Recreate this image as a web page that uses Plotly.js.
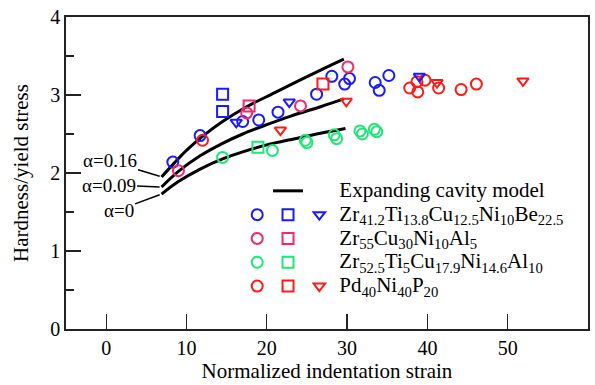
<!DOCTYPE html>
<html>
<head>
<meta charset="utf-8">
<script src="https://cdn.plot.ly/plotly-3.0.1.min.js"></script>
<style>html,body{margin:0;padding:0;background:#fff;}#chart{width:595px;height:385px;}</style>
</head>
<body>
<div id="chart"></div>
<script>
// ---- Expanding cavity model curves ----
const modelA16X = [6.9, 8.5, 10, 12, 14.5, 17.5, 21, 24, 26.7, 29.6];
const modelA16Y = [1.95, 2.13, 2.29, 2.47, 2.66, 2.85, 3.03, 3.185, 3.32, 3.46];
const modelA09X = [6.9, 9, 11.7, 14.5, 17, 20, 23, 26.7, 29.6];
const modelA09Y = [1.82, 2.02, 2.22, 2.38, 2.50, 2.62, 2.73, 2.85, 2.95];
const modelA0X = [6.9, 9, 11.7, 14.5, 17, 20, 23.5, 26.7, 29.8];
const modelA0Y = [1.73, 1.89, 2.05, 2.18, 2.27, 2.36, 2.44, 2.51, 2.57];

// ---- Zr41.2Ti13.8Cu12.5Ni10Be22.5 ----
const zrBeCircX = [8.3, 11.7, 17.0, 19.0, 21.4, 26.2, 28.1, 29.7, 30.3, 33.5, 34.0, 35.2];
const zrBeCircY = [2.14, 2.48, 2.66, 2.68, 2.78, 3.01, 3.24, 3.14, 3.21, 3.16, 3.06, 3.25];
const zrBeSqX = [14.5, 14.5];
const zrBeSqY = [3.01, 2.79];
const zrBeTriX = [16.2, 22.8, 39.0];
const zrBeTriY = [2.65, 2.91, 3.24];

// ---- Zr55Cu30Ni10Al5 ----
const zrAlCircX = [9.0, 17.5, 24.2, 30.1];
const zrAlCircY = [2.03, 2.77, 2.86, 3.36];
const zrAlSqX = [17.8];
const zrAlSqY = [2.86];

// ---- Zr52.5Ti5Cu17.9Ni14.6Al10 ----
const zrTiCircX = [14.5, 20.7, 24.8, 25.0, 28.4, 28.7, 31.6, 31.9, 33.4, 33.7];
const zrTiCircY = [2.20, 2.29, 2.42, 2.39, 2.49, 2.44, 2.54, 2.50, 2.56, 2.53];
const zrTiSqX = [18.9];
const zrTiSqY = [2.33];

// ---- Pd40Ni40P20 ----
const pdCircX = [12.0, 37.8, 38.7, 38.8, 39.7, 41.4, 44.2, 46.1];
const pdCircY = [2.42, 3.09, 3.17, 3.04, 3.19, 3.09, 3.07, 3.14];
const pdSqX = [27.0];
const pdSqY = [3.14];
const pdTriX = [21.7, 29.9, 41.2, 51.9];
const pdTriY = [2.55, 2.92, 3.16, 3.18];

// ---- labels ----
const xTicks = [0, 10, 20, 30, 40, 50, 60];
const yTicks = [0, 1, 2, 3, 4];
const modelName = 'Expanding cavity model';
const alloyNames = [
  'Zr<sub>41.2</sub>Ti<sub>13.8</sub>Cu<sub>12.5</sub>Ni<sub>10</sub>Be<sub>22.5</sub>',
  'Zr<sub>55</sub>Cu<sub>30</sub>Ni<sub>10</sub>Al<sub>5</sub>',
  'Zr<sub>52.5</sub>Ti<sub>5</sub>Cu<sub>17.9</sub>Ni<sub>14.6</sub>Al<sub>10</sub>',
  'Pd<sub>40</sub>Ni<sub>40</sub>P<sub>20</sub>'
];
const alphaLabels = ['α=0.16', 'α=0.09', 'α=0'];

const FONT = '"Liberation Serif", "Times New Roman", Times, serif';
const BLUE = '#1a1aff', PINK = '#f0286e', GREEN = '#1ee678', RED = '#ff1a1a';
const big = s => '<span style="font-size:21px">' + s + '</span>';

function mk(x, y, symbol, color, legend, rank, name, size) {
  return {
    type: 'scatter', mode: 'markers', x: x, y: y,
    marker: {symbol: symbol, size: size || 11, color: color, line: {color: color, width: 2}},
    legend: legend, legendrank: rank, name: name || '', showlegend: true,
    hoverinfo: 'x+y'
  };
}
function placeholder(legend, rank, name) {
  return {
    type: 'scatter', mode: 'markers', x: [null], y: [null],
    marker: {size: 1, color: 'rgba(0,0,0,0)'},
    legend: legend, legendrank: rank, name: name || '', showlegend: true, hoverinfo: 'skip'
  };
}
function line(x, y, show) {
  return {
    type: 'scatter', mode: 'lines', x: x, y: y, line: {color: '#000', width: 3, shape: 'spline', smoothing: 1},
    legend: 'legend2', legendrank: 1, name: '', showlegend: show, hoverinfo: 'skip'
  };
}

const data = [
  line(modelA16X, modelA16Y, true),
  line(modelA09X, modelA09Y, false),
  line(modelA0X, modelA0Y, false),
  // column 1: circles
  placeholder('legend', 1),
  mk(zrBeCircX, zrBeCircY, 'circle-open', BLUE, 'legend', 2),
  mk(zrAlCircX, zrAlCircY, 'circle-open', PINK, 'legend', 3),
  mk(zrTiCircX, zrTiCircY, 'circle-open', GREEN, 'legend', 4),
  mk(pdCircX, pdCircY, 'circle-open', RED, 'legend', 5),
  // column 2: squares
  mk(zrBeSqX, zrBeSqY, 'square-open', BLUE, 'legend2', 2),
  mk(zrAlSqX, zrAlSqY, 'square-open', PINK, 'legend2', 3),
  mk(zrTiSqX, zrTiSqY, 'square-open', GREEN, 'legend2', 4),
  mk(pdSqX, pdSqY, 'square-open', RED, 'legend2', 5),
  // column 3: triangles + names
  placeholder('legend3', 1, big(modelName)),
  mk(zrBeTriX, zrBeTriY, 'triangle-down-open', BLUE, 'legend3', 2, big(alloyNames[0]), 10),
  placeholder('legend3', 3, big(alloyNames[1])),
  placeholder('legend3', 4, big(alloyNames[2])),
  mk(pdTriX, pdTriY, 'triangle-down-open', RED, 'legend3', 5, big(alloyNames[3]), 10)
];

const legBase = {
  bgcolor: 'rgba(0,0,0,0)', borderwidth: 0, font: {family: FONT, size: 16, color: '#000'},
  yanchor: 'top', xanchor: 'left', y: 0.497, traceorder: 'normal', itemclick: false, itemdoubleclick: false
};

const axisLine = {showline: true, linecolor: '#222', linewidth: 1.8, mirror: true, zeroline: false, showgrid: false};

const layout = {
  width: 595, height: 385,
  margin: {l: 66, r: 7, t: 17, b: 56, pad: 0},
  paper_bgcolor: '#fff', plot_bgcolor: '#fff',
  font: {family: FONT, size: 20, color: '#000'},
  showlegend: true,
  xaxis: Object.assign({}, axisLine, {
    range: [-5, 60], tickmode: 'array', tickvals: xTicks, ticktext: xTicks.map(String),
    ticks: 'inside', ticklen: 15, tickwidth: 1.2, tickcolor: '#222',
    tickfont: {family: FONT, size: 20, color: '#000'},
    title: {text: 'Normalized indentation strain', font: {family: FONT, size: 21, color: '#000'}, standoff: 4}
  }),
  yaxis: Object.assign({}, axisLine, {
    range: [0, 4], tickmode: 'array', tickvals: yTicks, ticktext: yTicks.map(String),
    ticks: 'inside', ticklen: 15, tickwidth: 1.2, tickcolor: '#222',
    minor: {dtick: 0.5, ticks: 'inside', ticklen: 8, tickwidth: 1.2, tickcolor: '#222', showgrid: false},
    tickfont: {family: FONT, size: 20, color: '#000'},
    title: {text: 'Hardness/yield stress', font: {family: FONT, size: 21, color: '#000'}, standoff: 16}
  }),
  legend: Object.assign({}, legBase, {x: 0.328}),
  legend2: Object.assign({}, legBase, {x: 0.387}),
  legend3: Object.assign({}, legBase, {x: 0.447}),
  annotations: [
    {x: modelA16X[0], y: modelA16Y[0], text: alphaLabels[0], ax: -52, ay: -16},
    {x: modelA09X[0], y: modelA09Y[0], text: alphaLabels[1], ax: -53, ay: -2},
    {x: modelA0X[0], y: modelA0Y[0], text: alphaLabels[2], ax: -43, ay: 16}
  ].map(a => Object.assign(a, {
    xref: 'x', yref: 'y', showarrow: true, arrowhead: 0, arrowwidth: 1.5, arrowcolor: '#000',
    standoff: 2, font: {family: FONT, size: 19, color: '#000'}
  }))
};

Plotly.newPlot('chart', data, layout, {displayModeBar: false, staticPlot: true});
</script>
</body>
</html>
